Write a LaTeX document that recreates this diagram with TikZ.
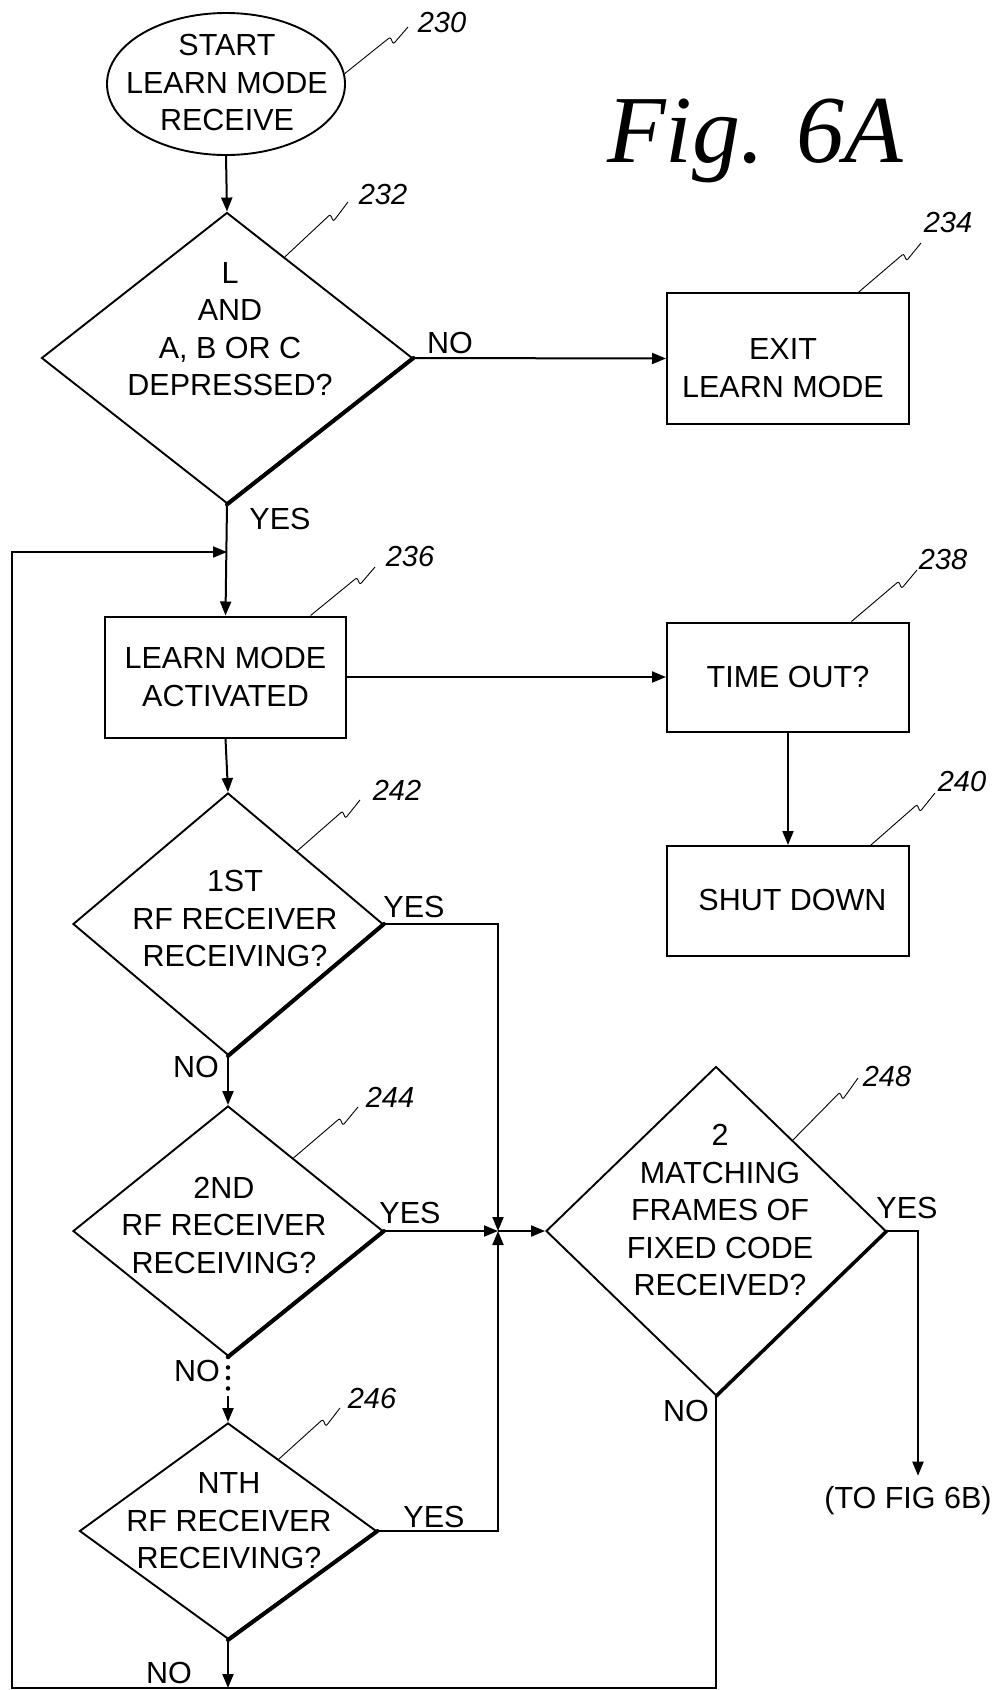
\documentclass[tikz,border=0pt]{standalone}
\usepackage{fontspec}
\setmainfont{Liberation Sans}
\newfontfamily\figfont{Liberation Serif}
\usetikzlibrary{shapes.geometric,arrows.meta,calc}
\newcommand\refleader[2]{\draw[leader] (#1) -- ($(#1)!0.72!(#2)+(0,-3)$) -- ++(3,7) -- (#2);}
\begin{document}
\begin{tikzpicture}[x=1pt,y=-1pt,
  txt/.style={font=\fontsize{30.5}{37.5}\selectfont, align=center, inner sep=0pt},
  lbl/.style={font=\fontsize{30.5}{37.5}\selectfont, inner sep=0pt},
  num/.style={font=\fontsize{29}{34}\selectfont\itshape, inner sep=0pt},
  box/.style={draw, line width=2pt, rectangle, inner sep=0pt},
  dia/.style={draw, line width=1.9pt, diamond, inner sep=0pt},
  term/.style={draw, line width=1.9pt, ellipse, inner sep=0pt},
  conn/.style={line width=2pt},
  arr/.style={conn, -{Triangle[length=14pt,width=11pt]}},
  leader/.style={line width=0.9pt, rounded corners=2pt},
  heavy/.style={line width=4pt, line cap=round},
  dotline/.style={line width=4.5pt, line cap=round, dash pattern=on 0pt off 10.5pt}]
\useasboundingbox (0,0) rectangle (997,1690);

% title
\node[anchor=base, inner sep=0pt, font=\figfont\itshape\fontsize{96}{100}\selectfont] (fig) at (755,162) {Fig. 6A};

% shapes
\node[term, minimum width=238pt, minimum height=142pt] (e230) at (226,84) {};
\node[txt] (t230) at (227,82.5) {START\\LEARN MODE\\RECEIVE};

\node[dia, minimum width=371pt, minimum height=291pt] (d232) at (227,358) {};
\node[txt] (t232) at (230,329) {L\\AND\\A, B OR C\\DEPRESSED?};

\node[box, minimum width=242pt, minimum height=131pt] (b234) at (788,358.5) {};
\node[txt] (t234) at (783,368) {EXIT\\LEARN MODE};

\node[box, minimum width=241pt, minimum height=121pt, txt] (b236) at (225.5,677) {LEARN MODE\\ACTIVATED};
\node[box, minimum width=242pt, minimum height=109pt, txt] (b238) at (788,677) {TIME OUT?};
\node[box, minimum width=242pt, minimum height=110pt] (b240) at (788,901) {};
\node[txt] (t240) at (792.5,900) {SHUT DOWN};

\node[dia, minimum width=310pt, minimum height=262pt] (d242) at (228,924) {};
\node[txt] (t242) at (235,918.5) {1ST\\RF RECEIVER\\RECEIVING?};

\node[dia, minimum width=310pt, minimum height=250pt] (d244) at (228,1231) {};
\node[txt] (t244) at (224,1225) {2ND\\RF RECEIVER\\RECEIVING?};

\node[dia, minimum width=297pt, minimum height=216pt] (d246) at (228,1531) {};
\node[txt] (t246) at (229,1521) {NTH\\RF RECEIVER\\RECEIVING?};

\node[dia, minimum width=340pt, minimum height=329pt] (d248) at (716,1231) {};
\node[txt] (t248) at (720,1210) {2\\MATCHING\\FRAMES OF\\FIXED CODE\\RECEIVED?};

\node[lbl, anchor=base] (tofig) at (908,1508) {(TO FIG 6B)};

% heavy lower-right edges
\draw[heavy] (d232.east) -- (d232.south);
\draw[heavy] (d242.east) -- (d242.south);
\draw[heavy] (d244.east) -- (d244.south);
\draw[heavy] (d246.east) -- (d246.south);
\draw[line width=3.2pt, line cap=round] (d248.east) -- (d248.south);

% coordinates
\coordinate (loopin) at (227,552);
\coordinate (bottomleft) at (12,1688);
\coordinate (jn) at (498,1231);
\coordinate (dotend) at (228,1396);

% connectors
\draw[arr] (e230.south) -- (d232.north);
\draw[arr] (d232.east) -- (b234.west);
\draw[arr] (d232.south) -- (b236.north);
\draw[arr] (b236.east) -- (b238.west);
\draw[arr] (b238.south) -- (b240.north);
\draw[arr] (b236.south) -- (d242.north);
\draw[arr] (d242.south) -- (d244.north);
\draw[arr] (d242.east) -| (jn);
\draw[arr] (d244.east) -- (jn);
\draw[dotline] (d244.south) -- (dotend);
\draw[arr] (dotend) -- (d246.north);
\draw[arr] (d246.east) -| (jn);
\draw[arr] (jn) -- (d248.west);
\draw[arr] (d248.east) -| ($(tofig.north)+(10,-10)$);
\draw[arr] (d246.south) -- (d246.south |- bottomleft);
\draw[arr] (d248.south) -- (d248.south |- bottomleft) -- (bottomleft) |- (loopin);

% branch labels
\node[lbl] (no232) at (450,343) {NO};
\node[lbl] (yes232) at (280,519) {YES};
\node[lbl] (yes242) at (414,907) {YES};
\node[lbl] (no242) at (196,1067) {NO};
\node[lbl] (yes244) at (410,1213) {YES};
\node[lbl] (no244) at (197,1371) {NO};
\node[lbl] (yes246) at (434,1517) {YES};
\node[lbl] (no246) at (169,1673) {NO};
\node[lbl] (yes248) at (907,1208) {YES};
\node[lbl] (no248) at (686,1411) {NO};

% reference numerals
\node[num] (n230) at (442,23) {230};
\node[num] (n232) at (383,195) {232};
\node[num] (n234) at (948,223) {234};
\node[num] (n236) at (410,557) {236};
\node[num] (n238) at (943,560) {238};
\node[num] (n240) at (962,782) {240};
\node[num] (n242) at (397,790) {242};
\node[num] (n244) at (390,1097) {244};
\node[num] (n246) at (372,1398) {246};
\node[num] (n248) at (887,1077) {248};

% leader lines
\coordinate (s230) at (e230.5);
\coordinate (e230x) at (408,27);
\coordinate (s232) at ($(d232.north)!0.31!(d232.east)$);
\coordinate (e232x) at (348,202);
\coordinate (s234) at ($(b234.north west)!0.79!(b234.north east)$);
\coordinate (e234x) at (921,243);
\coordinate (s236) at ($(b236.north west)!0.85!(b236.north east)$);
\coordinate (e236x) at (375,567);
\coordinate (s238) at ($(b238.north west)!0.76!(b238.north east)$);
\coordinate (e238x) at (917,570);
\coordinate (s240) at ($(b240.north west)!0.84!(b240.north east)$);
\coordinate (e240x) at (935,793);
\coordinate (s242) at ($(d242.north)!0.445!(d242.east)$);
\coordinate (e242x) at (360,800);
\coordinate (s244) at ($(d244.north)!0.42!(d244.east)$);
\coordinate (e244x) at (358,1107);
\coordinate (s246) at ($(d246.north)!0.34!(d246.east)$);
\coordinate (e246x) at (340,1408);
\coordinate (s248) at ($(d248.north)!0.45!(d248.east)$);
\coordinate (e248x) at (858,1078);
\refleader{s230}{e230x}
\refleader{s232}{e232x}
\refleader{s234}{e234x}
\refleader{s236}{e236x}
\refleader{s238}{e238x}
\refleader{s240}{e240x}
\refleader{s242}{e242x}
\refleader{s244}{e244x}
\refleader{s246}{e246x}
\refleader{s248}{e248x}
\end{tikzpicture}
\end{document}
